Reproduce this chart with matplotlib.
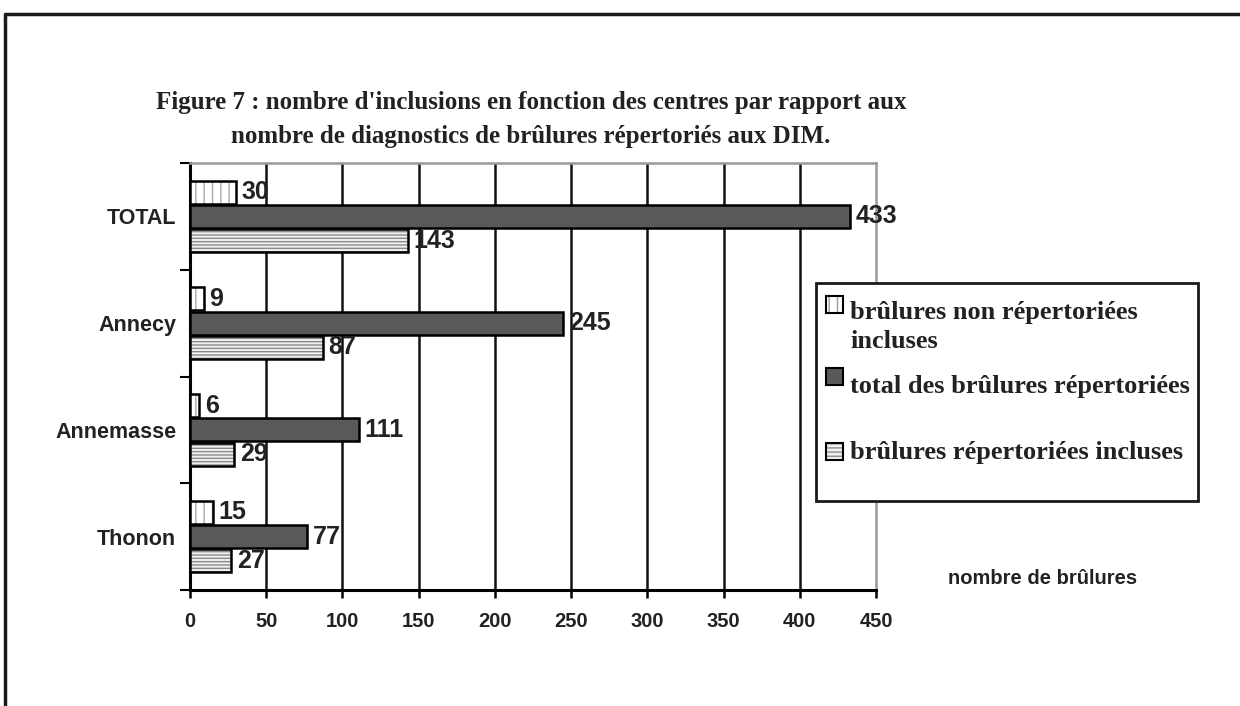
import matplotlib
matplotlib.use("Agg")
import matplotlib.pyplot as plt
from matplotlib.patches import Rectangle
from matplotlib.lines import Line2D
import numpy as np

categories = ["Thonon", "Annemasse", "Annecy", "TOTAL"]
non_rep_incluses = [15, 6, 9, 30]
total_rep = [77, 111, 245, 433]
rep_incluses = [27, 29, 87, 143]
xticks = [0, 50, 100, 150, 200, 250, 300, 350, 400, 450]
legend_labels = ["brûlures non répertoriées\nincluses",
                 "total des brûlures répertoriées",
                 "brûlures répertoriées incluses"]
title = ("Figure 7 : nombre d'inclusions en fonction des centres par rapport aux\n"
         "nombre de diagnostics de brûlures répertoriés aux DIM.")
xlabel = "nombre de brûlures"

SANS = "Liberation Sans"
SERIF = "Liberation Serif"
DARK = "#58595b"
TXT = "#222222"

fig = plt.figure(figsize=(12.4, 7.06), dpi=100)
W, H = 1240, 706
ax = fig.add_axes([190 / W, 1 - 590 / H, (876 - 190) / W, (590 - 163) / H])

y = np.arange(len(categories))
h = 0.215
off = 0.228

# vertical-hatched bars (top)
ax.barh(y + off, non_rep_incluses, height=h, color="white", edgecolor="#a8a8a8",
        hatch="||", linewidth=0, zorder=3)
ax.barh(y + off, non_rep_incluses, height=h, fill=False, edgecolor="black",
        linewidth=1.8, zorder=4)
# dark bars (middle)
ax.barh(y, total_rep, height=h, color=DARK, edgecolor="black", linewidth=1.8, zorder=4)
# horizontal-hatched bars (bottom)
ax.barh(y - off, rep_incluses, height=h, color="#f0f0f0", edgecolor="#8a8a8a",
        hatch="-----", linewidth=0, zorder=3)
ax.barh(y - off, rep_incluses, height=h, fill=False, edgecolor="black",
        linewidth=1.8, zorder=4)

for vals, dy in ((non_rep_incluses, off), (total_rep, 0), (rep_incluses, -off)):
    for yi, v in zip(y, vals):
        ax.annotate(str(v), (v, yi + dy), xytext=(4, 0), textcoords="offset points",
                    ha="left", va="center", fontsize=18, fontweight="bold",
                    family=SANS, color=TXT, zorder=5)

ax.set_xlim(0, 450)
ax.set_ylim(-0.5, len(categories) - 0.5)
ax.set_xticks(xticks)
ax.set_xticklabels([str(t) for t in xticks], fontsize=14.5, fontweight="bold",
                   family=SANS, color=TXT)
ax.tick_params(axis="x", direction="out", length=6, width=1.8, pad=10)
ax.set_yticks(np.arange(-0.5, len(categories), 1.0))
ax.set_yticklabels([])
ax.tick_params(axis="y", which="major", direction="out", length=7, width=1.5)
ax.set_yticks(y, minor=True)
ax.set_yticklabels(categories, minor=True, fontsize=15.5, fontweight="bold",
                   family=SANS, color=TXT)
ax.tick_params(axis="y", which="minor", length=0, pad=10)

for t in xticks[1:-1]:
    ax.axvline(t, color="#111111", linewidth=1.8, zorder=1)

ax.spines["left"].set_linewidth(2.2)
ax.spines["bottom"].set_linewidth(2.2)
ax.spines["top"].set_color("#999999")
ax.spines["right"].set_color("#999999")
ax.spines["top"].set_linewidth(1.8)
ax.spines["right"].set_linewidth(1.8)

fig.text(531 / W, 1 - 119.5 / H, title, ha="center", va="center", fontsize=18,
         fontweight="bold", family=SERIF, color=TXT, linespacing=1.62)
fig.text(1043 / W, 1 - 579 / H, xlabel, ha="center", va="center", fontsize=14.5,
         fontweight="bold", family=SANS, color=TXT)

# outer frame (left and top)
fig.add_artist(Line2D([5 / W, 5 / W, 1.0], [0.0, 1 - 13.5 / H, 1 - 13.5 / H],
                      transform=fig.transFigure, color="#1a1a1a", linewidth=2.5))

# legend
fig.add_artist(Rectangle((816 / W, 1 - 501 / H), (1198 - 816) / W, (501 - 283) / H,
                         transform=fig.transFigure, facecolor="white",
                         edgecolor="#1a1a1a", linewidth=2, zorder=10))
text_y = [327, 386, 453]
square_y = [305, 377, 451]
styles = [dict(facecolor="white", hatch="||", edgecolor="#9a9a9a"),
          dict(facecolor=DARK, hatch=None, edgecolor="black"),
          dict(facecolor="#f0f0f0", hatch="----", edgecolor="#8a8a8a")]
sq = 17
for lab, ty, sy, st in zip(legend_labels, text_y, square_y, styles):
    fig.add_artist(Rectangle((826 / W, 1 - (sy + sq / 2) / H), sq / W, sq / H,
                             transform=fig.transFigure, facecolor=st["facecolor"],
                             hatch=st["hatch"], edgecolor=st["edgecolor"],
                             linewidth=0, zorder=11))
    fig.add_artist(Rectangle((826 / W, 1 - (sy + sq / 2) / H), sq / W, sq / H,
                             transform=fig.transFigure, fill=False,
                             edgecolor="black", linewidth=1.5, zorder=12))
    fig.text(850 / W, 1 - ty / H, lab, ha="left", va="center",
             fontsize=19, fontweight="bold", family=SERIF, color=TXT,
             zorder=13, linespacing=1.3)

fig.savefig("out.png", dpi=100, facecolor="white")
